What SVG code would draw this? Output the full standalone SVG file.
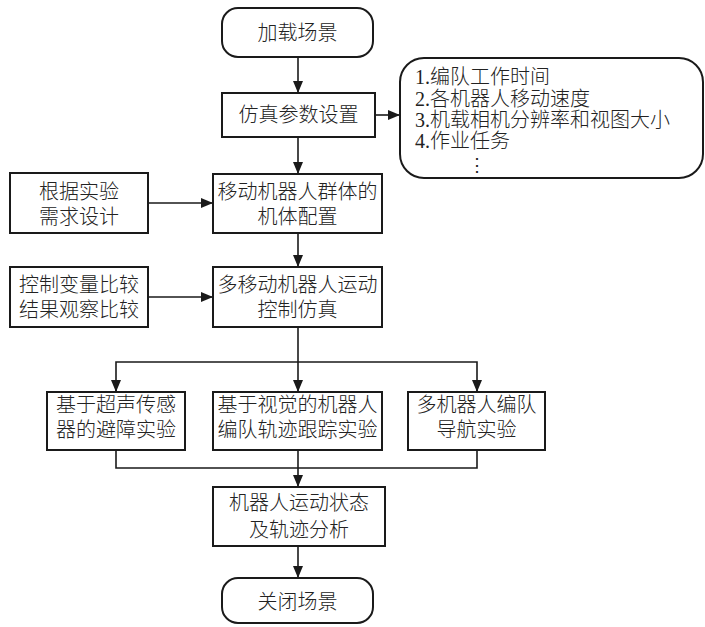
<svg xmlns="http://www.w3.org/2000/svg" width="705" height="627" viewBox="0 0 705 627">
<style>
.box{fill:#fff;stroke:#1a1a1a;stroke-width:2}
.t{font-family:"Liberation Serif","Noto Sans CJK SC",serif;font-size:20px;font-weight:300;fill:#222;text-anchor:middle;dominant-baseline:central}
.l{font-family:"Liberation Serif","Noto Sans CJK SC",serif;font-size:20px;font-weight:300;fill:#222;dominant-baseline:central}
.c{fill:none;stroke:#1a1a1a;stroke-width:1.6}
</style>
<defs>
<marker id="a" viewBox="0 0 12 10" refX="12" refY="5" markerWidth="12" markerHeight="10" markerUnits="userSpaceOnUse" orient="auto">
<path d="M0,0 L12,5 L0,10 Z" fill="#1a1a1a"/>
</marker>
</defs>
<rect width="705" height="627" fill="#fff"/>
<g id="connectors">
<line class="c" x1="298" y1="57" x2="298" y2="93" marker-end="url(#a)"/>
<line class="c" x1="375" y1="115" x2="400" y2="115" marker-end="url(#a)"/>
<line class="c" x1="298" y1="137" x2="298" y2="174" marker-end="url(#a)"/>
<line class="c" x1="148" y1="203" x2="213" y2="203" marker-end="url(#a)"/>
<line class="c" x1="298" y1="233" x2="298" y2="267" marker-end="url(#a)"/>
<line class="c" x1="148" y1="297" x2="213" y2="297" marker-end="url(#a)"/>
<line class="c" x1="298" y1="327" x2="298" y2="392" marker-end="url(#a)"/>
<polyline class="c" points="116,392 116,362 477,362 477,392"/>
<line class="c" x1="116" y1="380" x2="116" y2="392" marker-end="url(#a)"/>
<line class="c" x1="477" y1="380" x2="477" y2="392" marker-end="url(#a)"/>
<polyline class="c" points="116,450 116,468 477,468 477,450"/>
<line class="c" x1="298" y1="450" x2="298" y2="487" marker-end="url(#a)"/>
<line class="c" x1="298" y1="546" x2="298" y2="578" marker-end="url(#a)"/>
</g>
<g id="n-load">
<rect class="box" x="222" y="8" width="151" height="49" rx="16"/>
<text class="t" x="297.5" y="33">加载场景</text>
</g>
<g id="n-param">
<rect class="box" x="222" y="93" width="153" height="44"/>
<text class="t" x="298.5" y="115">仿真参数设置</text>
</g>
<g id="n-list">
<rect class="box" x="400" y="58" width="303" height="120" rx="24"/>
<text class="l" x="415" y="77">1.编队工作时间</text>
<text class="l" x="415" y="99">2.各机器人移动速度</text>
<text class="l" x="415" y="120">3.机载相机分辨率和视图大小</text>
<text class="l" x="415" y="141">4.作业任务</text>
<text class="t" x="477" y="164" style="font-family:'DejaVu Sans',sans-serif;font-size:18px">⋮</text>
</g>
<g id="n-design">
<rect class="box" x="10" y="173" width="138" height="60"/>
<text class="t" x="79" y="192">根据实验</text>
<text class="t" x="79" y="217">需求设计</text>
</g>
<g id="n-config">
<rect class="box" x="213" y="174" width="169" height="59"/>
<text class="t" x="297.5" y="192">移动机器人群体的</text>
<text class="t" x="297.5" y="217">机体配置</text>
</g>
<g id="n-compare">
<rect class="box" x="10" y="267" width="138" height="60"/>
<text class="t" x="79" y="285">控制变量比较</text>
<text class="t" x="79" y="310">结果观察比较</text>
</g>
<g id="n-sim">
<rect class="box" x="213" y="267" width="169" height="60"/>
<text class="t" x="297.5" y="285">多移动机器人运动</text>
<text class="t" x="297.5" y="310">控制仿真</text>
</g>
<g id="n-ultra">
<rect class="box" x="47" y="392" width="138" height="58"/>
<text class="t" x="116" y="405">基于超声传感</text>
<text class="t" x="116" y="430">器的避障实验</text>
</g>
<g id="n-vision">
<rect class="box" x="213" y="392" width="169" height="58"/>
<text class="t" x="297.5" y="405">基于视觉的机器人</text>
<text class="t" x="297.5" y="430">编队轨迹跟踪实验</text>
</g>
<g id="n-nav">
<rect class="box" x="408" y="392" width="137" height="58"/>
<text class="t" x="476.5" y="405">多机器人编队</text>
<text class="t" x="476.5" y="430">导航实验</text>
</g>
<g id="n-analysis">
<rect class="box" x="213" y="487" width="172" height="59"/>
<text class="t" x="299" y="503">机器人运动状态</text>
<text class="t" x="299" y="530">及轨迹分析</text>
</g>
<g id="n-close">
<rect class="box" x="222" y="578" width="151" height="45" rx="16"/>
<text class="t" x="297.5" y="602">关闭场景</text>
</g>
</svg>
